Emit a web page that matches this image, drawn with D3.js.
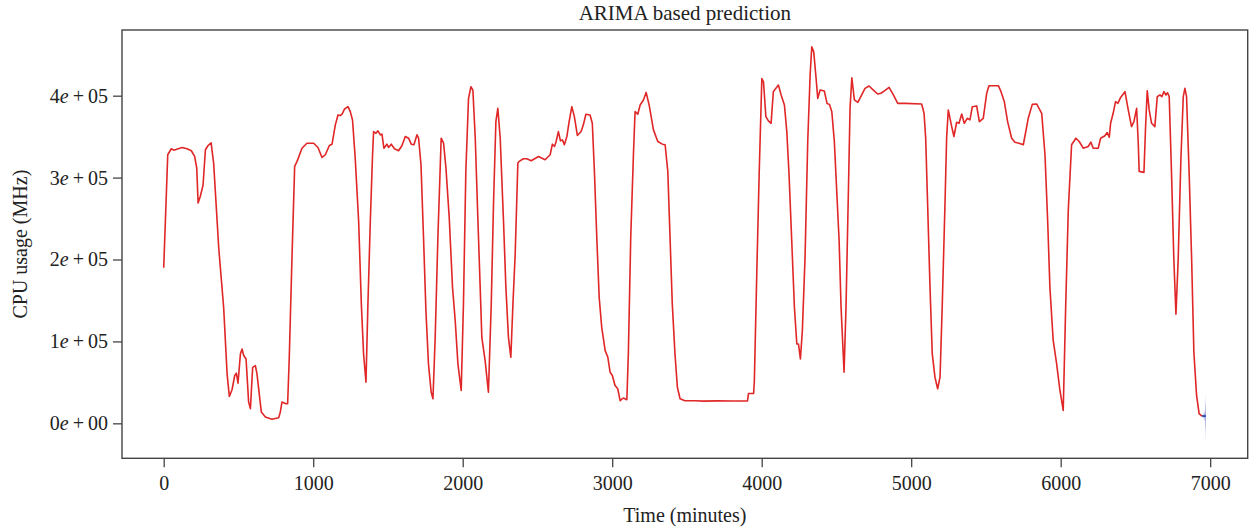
<!DOCTYPE html>
<html>
<head>
<meta charset="utf-8">
<script src="https://cdn.jsdelivr.net/npm/d3@7"></script>
<style>
  body { margin: 0; background: #fff; }
  text { font-family: "Liberation Serif", "DejaVu Serif", serif; fill: #222; }
</style>
</head>
<body>
<script>

const w = 1252;
const h = 531;

// observed CPU usage, [minute, MHz]
const usage = [
  [0,190000],[27,327900],[51,335200],[67,333500],[123,336800],[156,335200],[185,332800],[207,325800],
  [221,311600],[230,269100],[245,277200],[263,290600],[279,334000],[297,339200],[317,342500],[334,317700],
  [368,214300],[401,141400],[424,60400],[439,32800],[457,41000],[475,58400],[486,61200],[497,49000],
  [513,84700],[524,90800],[535,82700],[551,78600],[568,25900],[580,17900],[595,68400],[613,70500],
  [624,60400],[653,13700],[680,7700],[724,4900],[769,6900],[780,13700],[791,25900],[818,23950],
  [829,23950],[840,80600],[858,202200],[876,313700],[892,319800],[925,335900],[958,342000],[1003,342000],
  [1032,336800],[1059,324600],[1081,327900],[1108,339200],[1126,340800],[1148,364400],[1166,376500],[1181,375700],
  [1193,377500],[1210,383800],[1233,386600],[1248,380500],[1263,370400],[1281,323800],[1304,246800],[1322,145500],
  [1337,84700],[1353,50200],[1366,145500],[1382,246800],[1397,327900],[1404,356200],[1420,354100],[1433,357100],
  [1449,352200],[1460,353000],[1473,335900],[1493,340800],[1504,336800],[1522,340800],[1544,335200],[1571,332800],
  [1594,339200],[1616,350200],[1638,348100],[1656,340800],[1674,340100],[1694,352200],[1705,348100],[1721,315700],
  [1738,226500],[1754,137400],[1771,72600],[1789,38100],[1801,30000],[1816,104900],[1834,226500],[1856,348100],
  [1872,342000],[1888,311600],[1910,250800],[1932,165700],[1950,125200],[1968,72600],[1990,40100],[2005,145500],
  [2021,307600],[2039,396700],[2055,410900],[2068,406900],[2084,348100],[2102,246800],[2117,165700],[2128,104900],
  [2150,76600],[2172,38100],[2191,145500],[2206,267100],[2222,368400],[2235,384600],[2251,348100],[2273,246800],
  [2289,165700],[2306,104900],[2322,80600],[2336,145500],[2351,206300],[2369,317700],[2378,319800],[2406,323000],
  [2429,323000],[2458,320600],[2507,325800],[2551,321800],[2585,327900],[2600,340800],[2614,338000],[2625,344100],
  [2640,356200],[2654,344900],[2667,346100],[2680,340100],[2697,350200],[2712,368400],[2730,386600],[2747,374500],
  [2767,351400],[2792,356200],[2807,364400],[2824,377300],[2852,376500],[2867,366300],[2881,307600],[2897,226500],
  [2913,153600],[2930,117100],[2953,88800],[2971,80600],[2986,62400],[3001,58400],[3019,46200],[3037,42200],
  [3053,27600],[3064,29600],[3075,30800],[3098,28800],[3108,84700],[3124,226500],[3142,327900],[3153,380500],
  [3171,377300],[3187,388700],[3209,394800],[3227,404000],[3247,388700],[3276,358300],[3305,344100],[3336,340800],
  [3354,340100],[3372,307600],[3387,226500],[3402,145500],[3420,84700],[3436,44100],[3454,30000],[3487,27600],
  [3554,27600],[3610,27100],[3700,27400],[3800,27200],[3905,27300],[3912,36500],[3946,36500],[3951,52300],
  [3967,182000],[3983,303600],[4001,421000],[4012,417000],[4028,374500],[4045,369200],[4063,366300],[4078,404900],
  [4094,408900],[4112,413000],[4130,400900],[4152,388700],[4168,356200],[4183,303600],[4201,222500],[4219,141400],
  [4235,96900],[4246,96900],[4259,78700],[4272,113100],[4290,202200],[4308,344100],[4324,425200],[4335,459600],
  [4348,453500],[4362,425200],[4375,396700],[4391,406900],[4419,405700],[4437,390600],[4453,389400],[4469,380500],
  [4486,344100],[4502,283300],[4518,222500],[4531,141400],[4551,62400],[4564,141400],[4580,283300],[4591,384600],
  [4603,421900],[4620,394800],[4643,391900],[4669,400900],[4691,408900],[4718,411800],[4747,406900],[4776,402100],
  [4798,403000],[4821,406000],[4852,410100],[4881,400900],[4910,390600],[4959,390600],[5070,389900],[5086,378500],
  [5097,348100],[5110,267100],[5126,165700],[5141,84700],[5159,56300],[5177,42200],[5193,56300],[5208,145500],
  [5226,267100],[5237,348100],[5248,382600],[5271,362300],[5286,350200],[5304,367600],[5320,366300],[5338,377700],
  [5355,366300],[5375,372400],[5393,370500],[5409,386600],[5438,387500],[5456,368400],[5482,372400],[5505,402800],
  [5520,412200],[5583,412200],[5601,404900],[5623,392700],[5645,368400],[5672,348100],[5694,343200],[5721,342000],
  [5750,340100],[5783,372400],[5810,389400],[5839,389900],[5873,378500],[5895,327900],[5913,246800],[5928,165700],
  [5950,101200],[5973,72600],[5995,40100],[6017,15800],[6033,139300],[6051,260900],[6073,340100],[6102,348100],
  [6124,344100],[6151,335900],[6184,338000],[6202,343200],[6218,335900],[6251,335900],[6267,348100],[6296,351000],
  [6311,355000],[6325,349300],[6334,366300],[6351,378500],[6367,392700],[6383,390600],[6401,397900],[6430,404900],
  [6452,382600],[6474,362300],[6490,368400],[6508,384600],[6519,342000],[6525,307600],[6557,306400],[6568,362300],
  [6579,406100],[6592,382600],[6608,366300],[6630,362300],[6646,398800],[6664,400900],[6677,398800],[6690,404900],
  [6704,400900],[6715,403600],[6726,398800],[6742,301500],[6757,200200],[6771,133300],[6786,200200],[6804,321800],
  [6820,398800],[6831,408900],[6842,398800],[6860,301500],[6876,200200],[6891,86700],[6909,34000],[6926,11800],
  [6945,8900]
];

// ARIMA forecast: time, mean, 80% and 95% bounds
const fcTime  = [6945, 6966, 6969, 6972];
const fcMean  = [8900, 8900, 8900, 8900];
const fcLo80  = [8900, 6000, -4000, -10000];
const fcHi80  = [8900, 12000, 20000, 26000];
const fcLo95  = [8900, 2000, -12000, -23000];
const fcHi95  = [8900, 16000, 27000, 36500];

const xTicks = [0, 1000, 2000, 3000, 4000, 5000, 6000, 7000];
const yTicks = [0, 100000, 200000, 300000, 400000];
const yLabels = [['0','00'], ['1','05'], ['2','05'], ['3','05'], ['4','05']];

const plot = {left: 122, right: 1247.7, top: 30, bottom: 458.3};

const svg = d3.select('body')
              .append('svg')
              .attr('width', w)
              .attr('height', h);

const xScale = d3.scaleLinear()
                 .domain([-279, 7251])
                 .range([plot.left, plot.right]);
const yScale = d3.scaleLinear()
                 .domain([-42700, 480200])
                 .range([plot.bottom, plot.top]);

// forecast bands
const fc = fcTime.map((t, i) => ({t: t, m: fcMean[i], l80: fcLo80[i], h80: fcHi80[i], l95: fcLo95[i], h95: fcHi95[i]}));

svg.append('path')
   .datum(fc)
   .attr('fill', '#d3d7f2')
   .attr('d', d3.area().x(d => xScale(d.t)).y0(d => yScale(d.l95)).y1(d => yScale(d.h95)));

svg.append('path')
   .datum(fc)
   .attr('fill', '#a7aee0')
   .attr('d', d3.area().x(d => xScale(d.t)).y0(d => yScale(d.l80)).y1(d => yScale(d.h80)));

svg.append('path')
   .datum(usage)
   .attr('fill', 'none')
   .attr('stroke', '#e02626')
   .attr('stroke-width', 1.6)
   .attr('stroke-linejoin', 'round')
   .attr('d', d3.line().x(d => xScale(d[0])).y(d => yScale(d[1])));

svg.append('path')
   .datum(fc)
   .attr('fill', 'none')
   .attr('stroke', '#2b3fb0')
   .attr('stroke-width', 1.6)
   .attr('d', d3.line().x(d => xScale(d.t)).y(d => yScale(d.m)));

// axes
const xAxis = svg.append('g')
   .attr('transform', 'translate(0,' + plot.bottom + ')')
   .call(d3.axisBottom(xScale).tickValues(xTicks).tickSize(9).tickPadding(9).tickFormat(d3.format('d')));

const yAxis = svg.append('g')
   .attr('transform', 'translate(' + plot.left + ',0)')
   .call(d3.axisLeft(yScale).tickValues(yTicks).tickSize(9).tickPadding(5));

[xAxis, yAxis].forEach(g => {
  g.select('.domain').remove();
  g.selectAll('line').attr('stroke', '#444').attr('stroke-width', 1.3);
  g.selectAll('text').attr('font-family', '"Liberation Serif", serif').attr('font-size', 20).attr('fill', '#222');
});

yAxis.selectAll('.tick text')
     .text(null)
     .each(function(d, i) {
        const t = d3.select(this);
        t.append('tspan').text(yLabels[i][0]);
        t.append('tspan').attr('font-style', 'italic').text('e');
        t.append('tspan').text('\u2009+\u2009' + yLabels[i][1]).attr('xml:space', 'preserve');
     });

svg.append('rect')
   .attr('x', plot.left)
   .attr('y', plot.top)
   .attr('width', plot.right - plot.left)
   .attr('height', plot.bottom - plot.top)
   .attr('fill', 'none')
   .attr('stroke', '#444')
   .attr('stroke-width', 1.4);

svg.append('text')
   .text('ARIMA based prediction')
   .attr('x', (plot.left + plot.right) / 2)
   .attr('y', 20)
   .attr('text-anchor', 'middle')
   .attr('font-size', 21);

svg.append('text')
   .text('Time (minutes)')
   .attr('x', (plot.left + plot.right) / 2)
   .attr('y', 522)
   .attr('text-anchor', 'middle')
   .attr('font-size', 20);

svg.append('text')
   .text('CPU usage (MHz)')
   .attr('transform', 'rotate(-90)')
   .attr('x', -(plot.top + plot.bottom) / 2)
   .attr('y', 27)
   .attr('text-anchor', 'middle')
   .attr('font-size', 20);

</script>
</body>
</html>
